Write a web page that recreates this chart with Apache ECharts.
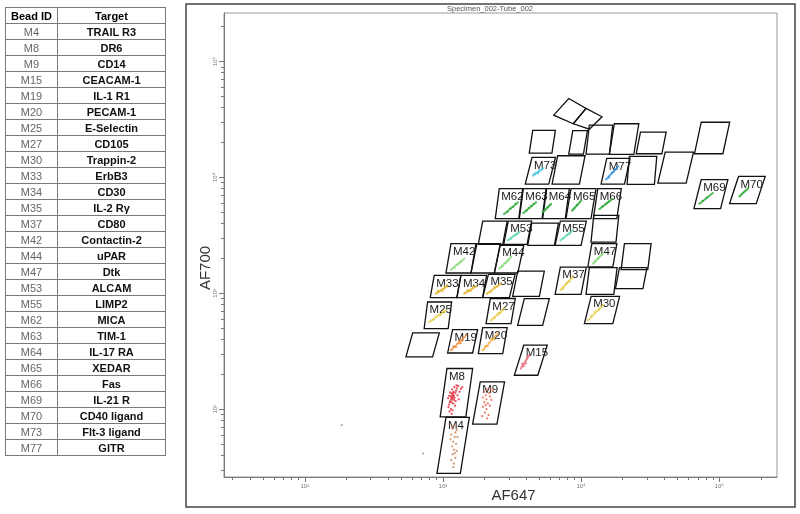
<!DOCTYPE html>
<html lang="en">
<head>
    <meta charset="UTF-8">
    <title>Specimen_002-Tube_002</title>
    <script src="https://cdn.jsdelivr.net/npm/echarts@6/dist/echarts.min.js"></script>
    <style>
        html, body { margin: 0; padding: 0; background: #fff; }
        #main { position: absolute; left: 0; top: 0; width: 800px; height: 514px; }
        #beadTable {
            position: absolute; left: 5px; top: 7px; width: 160px;
            border-collapse: collapse; table-layout: fixed;
            font-family: "Liberation Sans", Arial, sans-serif; font-size: 11px;
        }
        #beadTable th, #beadTable td {
            border: 1px solid #7a7a7a; height: 15px; padding: 0;
            text-align: center; vertical-align: middle; line-height: 12px;
        }
        #beadTable th { font-weight: bold; color: #000; }
        #beadTable td.id { color: #666; }
        #beadTable td.target { font-weight: bold; color: #111; }
    </style>
</head>
<body>
<div id="main"></div>

<!--bead table-->
<table id="beadTable">
    <colgroup><col style="width:52px"><col style="width:108px"></colgroup>
    <thead><tr><th>Bead ID</th><th>Target</th></tr></thead>
    <tbody id="beadRows"></tbody>
</table>

<script>
    // table
    var beadIds = ['M4', 'M8', 'M9', 'M15', 'M19', 'M20', 'M25', 'M27', 'M30', 'M33', 'M34', 'M35', 'M37',
        'M42', 'M44', 'M47', 'M53', 'M55', 'M62', 'M63', 'M64', 'M65', 'M66', 'M69', 'M70', 'M73', 'M77'];
    var targets = ['TRAIL R3', 'DR6', 'CD14', 'CEACAM-1', 'IL-1 R1', 'PECAM-1', 'E-Selectin', 'CD105', 'Trappin-2',
        'ErbB3', 'CD30', 'IL-2 R\u03b3', 'CD80', 'Contactin-2', 'uPAR', 'Dtk', 'ALCAM', 'LIMP2', 'MICA', 'TIM-1',
        'IL-17 RA', 'XEDAR', 'Fas', 'IL-21 R', 'CD40 ligand', 'Flt-3 ligand', 'GITR'];

    // axes, in log10 units (26 .. 262143)
    var axisMin = 1.415, axisMax = 5.4185;
    var decades = [2, 3, 4, 5];
    var decadeLabels = ['10\u00b2', '10\u00b3', '10\u2074', '10\u2075'];
    var rawTicks = [30, 40, 50, 60, 70, 80, 90, 100, 200, 300, 400, 500, 600, 700, 800, 900,
        1000, 2000, 3000, 4000, 5000, 6000, 7000, 8000, 9000, 10000, 20000, 30000, 40000, 50000,
        60000, 70000, 80000, 90000, 100000, 200000];

    // gates: [x, y, width, height, skew] (log10 AF647, log10 AF700)
    var gateLabels = ['M4', 'M8', 'M9', 'M15', 'M19', 'M20', 'M25', 'M27', 'M30', 'M33', 'M34', 'M35', 'M37',
        'M42', 'M44', 'M47', 'M53', 'M55', 'M62', 'M63', 'M64', 'M65', 'M66', 'M69', 'M70', 'M73', 'M77',
        '', '', '', '', '', '', '', '', '', '', '', '', '', '', '', '', '', '', ''];
    var gateBoxes = [
        [2.957, 1.446, 0.169, 0.483, 0.065], [2.980, 1.934, 0.186, 0.417, 0.049], [3.215, 1.871, 0.176, 0.365, 0.055],
        [3.517, 2.293, 0.170, 0.259, 0.068], [3.034, 2.485, 0.181, 0.202, 0.036], [3.256, 2.480, 0.177, 0.224, 0.032],
        [2.864, 2.696, 0.174, 0.229, 0.025], [3.312, 2.739, 0.181, 0.216, 0.031], [4.024, 2.739, 0.206, 0.235, 0.049],
        [2.908, 2.963, 0.193, 0.192, 0.029], [3.101, 2.963, 0.186, 0.192, 0.029], [3.288, 2.963, 0.193, 0.201, 0.041],
        [3.812, 2.991, 0.188, 0.235, 0.038], [3.022, 3.175, 0.181, 0.253, 0.036], [3.372, 3.175, 0.170, 0.239, 0.043],
        [4.049, 3.227, 0.181, 0.202, 0.029], [3.440, 3.422, 0.169, 0.201, 0.033], [3.812, 3.414, 0.188, 0.209, 0.038],
        [3.379, 3.644, 0.170, 0.259, 0.029], [3.553, 3.644, 0.165, 0.259, 0.029], [3.722, 3.644, 0.164, 0.259, 0.029],
        [3.891, 3.644, 0.181, 0.259, 0.036], [4.089, 3.644, 0.170, 0.259, 0.032], [4.817, 3.730, 0.193, 0.250, 0.053],
        [5.075, 3.773, 0.193, 0.235, 0.065], [3.596, 3.942, 0.170, 0.230, 0.049], [4.145, 3.942, 0.169, 0.222, 0.041],
        // unlabeled
        [3.625, 4.210, 0.164, 0.196, 0.025], [3.911, 4.201, 0.106, 0.202, 0.029], [4.036, 4.201, 0.169, 0.250, 0.024],
        [4.205, 4.198, 0.177, 0.265, 0.036], [4.399, 4.204, 0.186, 0.186, 0.031], [4.821, 4.204, 0.206, 0.272, 0.049],
        [3.790, 3.942, 0.198, 0.245, 0.041], [4.333, 3.940, 0.198, 0.241, 0.017], [4.556, 3.951, 0.205, 0.267, 0.053],
        [3.256, 3.422, 0.177, 0.201, 0.032], [3.614, 3.414, 0.193, 0.192, 0.029], [4.072, 3.442, 0.181, 0.230, 0.020],
        [3.203, 3.175, 0.169, 0.253, 0.043], [4.290, 3.204, 0.193, 0.224, 0.024], [3.505, 2.974, 0.193, 0.218, 0.036],
        [4.036, 2.991, 0.201, 0.230, 0.024], [4.249, 3.041, 0.199, 0.181, 0.029], [3.541, 2.724, 0.181, 0.230, 0.048],
        [2.732, 2.451, 0.193, 0.207, 0.049]
    ];
    // two tilted gates at the top
    var tiltedGates = [
        [3.802, 4.537, 3.911, 4.681, 4.036, 4.595, 3.944, 4.463],
        [3.944, 4.463, 4.036, 4.595, 4.152, 4.523, 4.060, 4.416]
    ];

    // events [log10 AF647, log10 AF700]
    var eventsM4 = [[3.080, 1.860], [3.070, 1.830], [3.090, 1.800], [3.060, 1.780], [3.085, 1.760], [3.075, 1.720], [3.095, 1.700],
        [3.065, 1.680], [3.080, 1.650], [3.100, 1.640], [3.070, 1.610], [3.090, 1.580], [3.060, 1.560], [3.080, 1.530],
        [3.075, 1.500], [3.100, 1.820], [3.055, 1.740], [3.105, 1.760], [3.085, 1.620], [3.065, 1.850]];
    var eventsM8 = [[3.070, 2.106], [3.065, 2.100], [3.075, 2.112], [3.060, 2.090], [3.080, 2.120], [3.068, 2.125], [3.058, 2.110],
        [3.085, 2.098], [3.072, 2.085], [3.062, 2.135], [3.090, 2.140], [3.055, 2.075], [3.078, 2.150], [3.095, 2.160],
        [3.050, 2.060], [3.066, 2.170], [3.100, 2.180], [3.045, 2.040], [3.082, 2.190], [3.110, 2.200], [3.040, 2.020],
        [3.058, 2.000], [3.075, 2.050], [3.092, 2.070], [3.048, 1.980], [3.064, 1.960], [3.120, 2.150], [3.105, 2.120],
        [3.038, 2.095], [3.130, 2.175], [3.052, 2.145], [3.088, 2.030], [3.070, 1.990], [3.115, 2.085], [3.045, 2.115],
        [3.098, 2.205], [3.140, 2.190], [3.062, 2.060], [3.080, 2.080], [3.072, 2.140]];
    var eventsM9 = [[3.300, 2.150], [3.320, 2.170], [3.310, 2.120], [3.335, 2.140], [3.290, 2.100], [3.315, 2.085], [3.340, 2.110],
        [3.300, 2.060], [3.325, 2.050], [3.350, 2.080], [3.290, 2.020], [3.315, 2.000], [3.340, 2.030], [3.305, 1.970],
        [3.330, 1.950], [3.285, 1.940], [3.360, 2.160], [3.345, 2.175], [3.320, 1.920], [3.310, 2.035]];
    var eventsM15 = [[3.565, 2.351], [3.571, 2.364], [3.577, 2.373], [3.583, 2.386], [3.589, 2.396], [3.595, 2.409], [3.601, 2.420],
        [3.607, 2.432], [3.613, 2.442], [3.619, 2.455], [3.625, 2.466], [3.585, 2.372], [3.575, 2.392], [3.600, 2.395], [3.610, 2.450]];
    var eventsM19 = [[3.058, 2.509], [3.069, 2.519], [3.080, 2.535], [3.091, 2.545], [3.102, 2.561], [3.113, 2.571], [3.123, 2.587],
        [3.134, 2.596], [3.145, 2.612], [3.156, 2.622], [3.167, 2.638], [3.075, 2.540], [3.095, 2.538], [3.118, 2.590],
        [3.140, 2.592], [3.128, 2.570]];
    var eventsM20 = [[3.288, 2.509], [3.299, 2.520], [3.310, 2.538], [3.320, 2.549], [3.331, 2.567], [3.342, 2.578], [3.353, 2.596],
        [3.364, 2.607], [3.374, 2.625], [3.385, 2.636], [3.396, 2.653], [3.305, 2.542], [3.326, 2.545], [3.350, 2.604], [3.370, 2.603]];
    var eventsM25 = [[2.901, 2.753], [2.913, 2.761], [2.925, 2.773], [2.937, 2.781], [2.949, 2.793], [2.961, 2.801], [2.973, 2.813],
        [2.985, 2.821], [2.998, 2.833], [3.010, 2.841], [3.022, 2.853], [2.930, 2.770], [2.955, 2.805], [2.980, 2.812], [3.004, 2.843]];
    var eventsM27 = [[3.348, 2.767], [3.358, 2.775], [3.367, 2.787], [3.377, 2.795], [3.386, 2.808], [3.396, 2.815], [3.406, 2.828],
        [3.415, 2.835], [3.425, 2.848], [3.434, 2.856], [3.444, 2.868], [3.371, 2.785], [3.400, 2.825], [3.420, 2.836]];
    var eventsM30 = [[4.049, 2.767], [4.060, 2.777], [4.071, 2.793], [4.082, 2.803], [4.092, 2.819], [4.103, 2.829], [4.114, 2.845],
        [4.125, 2.855], [4.136, 2.871], [4.146, 2.881], [4.157, 2.897], [4.078, 2.805], [4.100, 2.838], [4.130, 2.860]];
    var eventsM33 = [[2.949, 2.997], [2.958, 3.002], [2.966, 3.010], [2.975, 3.015], [2.983, 3.024], [2.992, 3.029], [3.000, 3.037],
        [3.009, 3.041], [3.017, 3.050], [3.026, 3.056], [3.034, 3.069], [2.970, 3.021], [2.995, 3.020], [3.012, 3.058], [2.960, 3.018]];
    var eventsM34 = [[3.154, 2.997], [3.163, 3.003], [3.171, 3.009], [3.180, 3.016], [3.188, 3.022], [3.197, 3.028], [3.205, 3.034],
        [3.214, 3.041], [3.222, 3.047], [3.231, 3.053], [3.239, 3.060], [3.176, 3.026], [3.200, 3.020], [3.218, 3.055]];
    var eventsM35 = [[3.319, 2.997], [3.329, 3.004], [3.339, 3.015], [3.349, 3.022], [3.359, 3.032], [3.369, 3.040], [3.380, 3.050],
        [3.390, 3.057], [3.400, 3.067], [3.410, 3.074], [3.420, 3.084], [3.345, 3.012], [3.372, 3.051], [3.395, 3.060]];
    var eventsM37 = [[3.850, 3.026], [3.859, 3.036], [3.868, 3.050], [3.877, 3.059], [3.886, 3.073], [3.895, 3.082], [3.904, 3.096],
        [3.913, 3.105], [3.922, 3.119], [3.931, 3.128], [3.940, 3.141], [3.870, 3.041], [3.897, 3.090], [3.915, 3.100]];
    var eventsM42 = [[3.058, 3.204], [3.068, 3.211], [3.077, 3.223], [3.087, 3.230], [3.096, 3.242], [3.106, 3.249], [3.116, 3.261],
        [3.125, 3.268], [3.135, 3.280], [3.144, 3.287], [3.154, 3.299], [3.082, 3.222], [3.111, 3.252], [3.130, 3.271]];
    var eventsM44 = [[3.408, 3.213], [3.417, 3.221], [3.425, 3.233], [3.434, 3.241], [3.442, 3.253], [3.451, 3.261], [3.459, 3.273],
        [3.468, 3.281], [3.476, 3.293], [3.485, 3.301], [3.493, 3.313], [3.430, 3.232], [3.455, 3.262], [3.472, 3.283]];
    var eventsM47 = [[4.085, 3.256], [4.092, 3.263], [4.099, 3.274], [4.107, 3.280], [4.114, 3.291], [4.121, 3.298], [4.128, 3.308],
        [4.135, 3.315], [4.143, 3.325], [4.150, 3.332], [4.157, 3.342], [4.103, 3.273], [4.125, 3.300]];
    var eventsM53 = [[3.469, 3.457], [3.477, 3.463], [3.486, 3.472], [3.494, 3.477], [3.503, 3.486], [3.511, 3.492], [3.519, 3.500],
        [3.528, 3.506], [3.536, 3.514], [3.545, 3.520], [3.553, 3.528], [3.490, 3.469], [3.515, 3.499], [3.532, 3.505]];
    var eventsM55 = [[3.850, 3.457], [3.859, 3.464], [3.868, 3.474], [3.877, 3.481], [3.886, 3.491], [3.895, 3.498], [3.904, 3.508],
        [3.913, 3.515], [3.922, 3.525], [3.931, 3.532], [3.940, 3.543], [3.872, 3.472], [3.900, 3.503], [3.918, 3.514]];
    var eventsM62 = [[3.442, 3.684], [3.452, 3.692], [3.462, 3.704], [3.472, 3.712], [3.482, 3.724], [3.492, 3.732], [3.502, 3.744],
        [3.512, 3.752], [3.522, 3.764], [3.532, 3.772], [3.541, 3.784], [3.466, 3.701], [3.487, 3.731], [3.507, 3.746], [3.527, 3.771]];
    var eventsM63 = [[3.582, 3.692], [3.591, 3.700], [3.600, 3.712], [3.609, 3.719], [3.618, 3.730], [3.627, 3.737], [3.636, 3.749],
        [3.645, 3.756], [3.654, 3.767], [3.664, 3.774], [3.674, 3.784], [3.605, 3.713], [3.623, 3.735], [3.640, 3.752], [3.659, 3.771]];
    var eventsM64 = [[3.722, 3.698], [3.729, 3.705], [3.735, 3.714], [3.741, 3.720], [3.748, 3.729], [3.754, 3.736], [3.760, 3.744],
        [3.766, 3.750], [3.772, 3.758], [3.778, 3.764], [3.783, 3.770], [3.738, 3.716], [3.757, 3.741]];
    var eventsM65 = [[3.935, 3.713], [3.942, 3.721], [3.948, 3.731], [3.955, 3.738], [3.961, 3.748], [3.968, 3.755], [3.974, 3.765],
        [3.981, 3.772], [3.987, 3.782], [3.994, 3.789], [4.000, 3.799], [3.951, 3.733], [3.971, 3.761]];
    var eventsM66 = [[4.133, 3.727], [4.142, 3.734], [4.151, 3.745], [4.160, 3.751], [4.170, 3.762], [4.179, 3.769], [4.188, 3.779],
        [4.197, 3.786], [4.206, 3.796], [4.216, 3.803], [4.225, 3.813], [4.155, 3.748], [4.183, 3.775], [4.201, 3.790]];
    var eventsM69 = [[4.857, 3.773], [4.867, 3.780], [4.876, 3.792], [4.886, 3.799], [4.896, 3.810], [4.906, 3.818], [4.915, 3.829],
        [4.925, 3.836], [4.935, 3.847], [4.944, 3.855], [4.954, 3.865], [4.882, 3.797], [4.910, 3.823]];
    var eventsM70 = [[5.147, 3.836], [5.153, 3.842], [5.159, 3.850], [5.165, 3.856], [5.171, 3.864], [5.177, 3.870], [5.184, 3.877],
        [5.190, 3.883], [5.196, 3.891], [5.202, 3.897], [5.208, 3.903]];
    var eventsM73 = [[3.652, 4.015], [3.660, 4.025], [3.668, 4.028], [3.675, 4.038], [3.683, 4.040], [3.690, 4.050], [3.697, 4.052],
        [3.705, 4.062], [3.712, 4.064], [3.720, 4.074], [3.664, 4.032], [3.688, 4.035], [3.700, 4.060], [3.725, 4.078]];
    var eventsM77 = [[4.181, 3.983], [4.190, 3.992], [4.198, 4.006], [4.206, 4.012], [4.214, 4.026], [4.222, 4.033], [4.230, 4.045],
        [4.238, 4.052], [4.246, 4.066], [4.254, 4.072], [4.262, 4.086], [4.268, 4.095], [4.200, 3.998], [4.226, 4.040], [4.243, 4.062]];
    var eventsDebris = [[2.268, 1.862], [2.857, 1.618]];

    // bead table rows
    var rows = '';
    for (var i = 0; i < beadIds.length; i++) {
        rows += '<tr><td class="id">' + beadIds[i] + '</td><td class="target">' + targets[i] + '</td></tr>';
    }
    document.getElementById('beadRows').innerHTML = rows;

    var eventSets = [
        [eventsM4, '#c98658'], [eventsM8, '#e02c3c'], [eventsM9, '#e8664e'], [eventsM15, '#e66a7c'],
        [eventsM19, '#f0801e'], [eventsM20, '#f2a22a'], [eventsM25, '#e8c83a'], [eventsM27, '#e8c83a'],
        [eventsM30, '#e8c83a'], [eventsM33, '#e2b42e'], [eventsM34, '#e2b42e'], [eventsM35, '#e2b42e'],
        [eventsM37, '#e8c83a'], [eventsM42, '#82d874'], [eventsM44, '#82d874'], [eventsM47, '#82d874'],
        [eventsM53, '#64d6b4'], [eventsM55, '#64d6b4'], [eventsM62, '#2eaa3a'], [eventsM63, '#2eaa3a'],
        [eventsM64, '#2eaa3a'], [eventsM65, '#2eaa3a'], [eventsM66, '#2eaa3a'], [eventsM69, '#2eaa3a'],
        [eventsM70, '#2eaa3a'], [eventsM73, '#4cc8e6'], [eventsM77, '#2a8ee0'], [eventsDebris, '#9a9a9a']
    ];
    var tickValues = rawTicks.map(function (v) { return Math.log10(v); });

    var series = [];
    eventSets.forEach(function (set) {
        series.push({
            type: 'scatter',
            data: set[0],
            symbolSize: 2.3,
            itemStyle: { color: set[1], opacity: 0.8 },
            silent: true
        });
    });

    // parallelogram gates with their bead labels
    series.push({
        type: 'custom',
        data: gateBoxes,
        silent: true,
        renderItem: function (params, api) {
            var x = api.value(0), y = api.value(1), w = api.value(2), h = api.value(3), s = api.value(4);
            var bl = api.coord([x, y]), br = api.coord([x + w, y]);
            var tr = api.coord([x + w + s, y + h]), tl = api.coord([x + s, y + h]);
            var children = [{
                type: 'polygon',
                shape: { points: [bl, br, tr, tl] },
                style: { fill: 'none', stroke: '#111', lineWidth: 1.3 }
            }];
            var label = gateLabels[params.dataIndex];
            if (label) {
                children.push({
                    type: 'text',
                    x: tl[0] + 2,
                    y: tl[1] + 2,
                    style: {
                        text: label, fill: '#1a1a1a', fontSize: 11.5,
                        fontFamily: '"Liberation Sans", Arial, sans-serif', verticalAlign: 'top'
                    }
                });
            }
            return { type: 'group', children: children };
        }
    });
    series.push({
        type: 'custom',
        data: tiltedGates,
        silent: true,
        renderItem: function (params, api) {
            var pts = [];
            for (var k = 0; k < 4; k++) {
                pts.push(api.coord([api.value(k * 2), api.value(k * 2 + 1)]));
            }
            return {
                type: 'polygon',
                shape: { points: pts },
                style: { fill: 'none', stroke: '#111', lineWidth: 1.3 }
            };
        }
    });

    function decadeLabel(v) {
        var idx = decades.indexOf(Math.round(v));
        return idx >= 0 ? decadeLabels[idx] : '';
    }

    var myChart = echarts.init(document.getElementById('main'));
    myChart.setOption({
        animation: false,
        textStyle: { fontFamily: '"Liberation Sans", Arial, sans-serif' },
        title: {
            text: 'Specimen_002-Tube_002',
            left: 447, top: 5, padding: 0,
            textStyle: { fontSize: 7.5, fontWeight: 'normal', color: '#555' }
        },
        graphic: [{
            type: 'rect',
            shape: { x: 186, y: 4, width: 609, height: 503 },
            style: { fill: 'none', stroke: '#444', lineWidth: 1.5 },
            silent: true
        }],
        grid: { left: 224, top: 13, right: 23, bottom: 37, show: true, borderColor: '#999', borderWidth: 1 },
        xAxis: [{
            type: 'value', min: axisMin, max: axisMax,
            name: 'AF647', nameLocation: 'middle', nameGap: 11,
            nameTextStyle: { fontSize: 15, color: '#333', padding: [0, 0, 0, 26] },
            axisLine: { show: true, lineStyle: { color: '#777' } },
            axisTick: { show: true, length: 3, customValues: tickValues, lineStyle: { color: '#777' } },
            axisLabel: { show: false },
            splitLine: { show: false }
        }, {
            type: 'value', min: axisMin, max: axisMax, position: 'bottom',
            axisLine: { show: false },
            axisTick: { show: true, length: 5, customValues: decades, lineStyle: { color: '#777' } },
            axisLabel: { customValues: decades, formatter: decadeLabel, fontSize: 6, color: '#777', margin: 6 },
            splitLine: { show: false }
        }],
        yAxis: [{
            type: 'value', min: axisMin, max: axisMax,
            name: 'AF700', nameLocation: 'middle', nameGap: 11, nameRotate: 90,
            nameTextStyle: { fontSize: 15, color: '#333', padding: [0, 46, 0, 0] },
            axisLine: { show: true, lineStyle: { color: '#777' } },
            axisTick: { show: true, length: 3, customValues: tickValues, lineStyle: { color: '#777' } },
            axisLabel: { show: false },
            splitLine: { show: false }
        }, {
            type: 'value', min: axisMin, max: axisMax, position: 'left',
            axisLine: { show: false },
            axisTick: { show: true, length: 5, customValues: decades, lineStyle: { color: '#777' } },
            axisLabel: { customValues: decades, formatter: decadeLabel, fontSize: 6, color: '#777', margin: 6, rotate: 90 },
            splitLine: { show: false }
        }],
        series: series
    });
</script>
</body>
</html>
